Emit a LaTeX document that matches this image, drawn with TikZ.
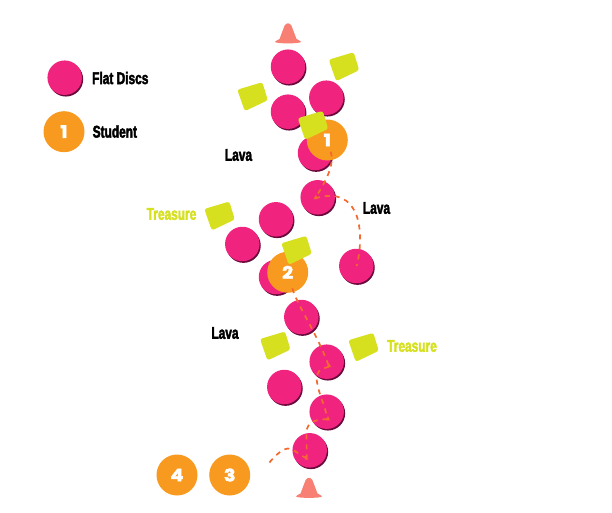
\documentclass[tikz,border=0pt]{standalone}
\usepackage{fontspec}
\setmainfont{Liberation Sans}
\newfontfamily\labelfont[FakeStretch=0.70,FakeBold=2.4]{Liberation Sans Bold}
\newfontfamily\numfont[FakeBold=3,FakeStretch=1.12]{Poppins Bold}
\definecolor{discpink}{HTML}{F0247F}
\definecolor{discshade}{HTML}{6A0A3C}
\definecolor{orangeb}{HTML}{F99A20}
\definecolor{lime}{HTML}{D6E01F}
\definecolor{routec}{HTML}{F4692F}
\definecolor{conec}{HTML}{F77F73}
\tikzset{
  x=1pt,y=-1pt,
  disc/.style={circle,fill=discpink,minimum size=34.5pt,inner sep=0pt,outer sep=0pt,
    preaction={draw=none,fill=discshade,transform canvas={shift={(1.2pt,-1.6pt)}}}},
  student/.style={circle,fill=orangeb,minimum size=41pt,inner sep=0pt,outer sep=0pt,
    text=white,font=\numfont\fontsize{17}{17}\selectfont},
  tag/.style={inner sep=0pt,font=\labelfont\fontsize{17}{18}\selectfont,text=black},
  ytag/.style={tag,text=lime},
  route/.style={draw=routec,line width=1.7pt,dash pattern=on 5pt off 5pt},
  tipmark/.style={fill=routec,draw=none},
  block/.pic={\fill[lime,rounded corners=2.5pt] (-15,-7) -- (10,-14.5) -- (15.5,3.5) -- (-7.5,14.5) -- cycle;},
  conepic/.pic={\fill[conec] (-13,18.3) .. controls (-13,17) and (-9.5,16.6) .. (-8.5,15.5)
     -- (-3.4,2) .. controls (-1.7,-0.9) and (1.7,-0.9) .. (3.4,2) -- (8.5,15.5)
     .. controls (9.5,16.6) and (13,17) .. (13,18.3) .. controls (13,20.4) and (-13,20.4) .. (-13,18.3) -- cycle;}
}
\begin{document}
\begin{tikzpicture}
\useasboundingbox (0,0) rectangle (612,513);
% cones
\pic at (288,23.5) {conepic};
\pic at (309,478) {conepic};
% discs
\node[disc] (legdisc) at (64.7,77.7) {};
\node[disc] (d1) at (288,66.7) {};
\node[disc] (d2) at (326.3,97.7) {};
\node[disc] (d3) at (288,111.7) {};
\node[disc] (d4) at (315,153) {};
\node[disc] (d5) at (317.7,197.3) {};
\node[disc] (d6) at (276,219.3) {};
\node[disc] (d7) at (242.3,244) {};
\node[disc] (d8) at (276,277) {};
\node[disc] (d9) at (356.3,266) {};
\node[disc] (d10) at (301.3,317) {};
\node[disc] (d11) at (326.7,361.7) {};
\node[disc] (d12) at (284.3,387) {};
\node[disc] (d13) at (326.7,411.7) {};
\node[disc] (d14) at (309.7,450.3) {};
% students
\node[student] (leg) at (64,131.7) {1};
\node[student] (s1) at (327.3,140) {1};
\node[student] (s2) at (287.7,272.3) {2};
\node[student] (s3) at (229.7,475) {3};
\node[student] (s4) at (177,475) {4};
% blocks
\pic at (343.7,66.7) {block};
\pic at (252.3,96.7) {block};
\pic at (312.7,125.3) {block};
\pic at (219.3,216) {block};
\pic at (296.3,250.3) {block};
\pic at (275,346) {block};
\pic at (363.3,347.3) {block};
% route way points
\coordinate (p0) at (330.7,151.7);
\coordinate (t1) at (315,198.3);
\coordinate (p2) at (292.3,288.3);
\coordinate (t2) at (329,366.7);
\coordinate (t3) at (327.5,419.3);
\coordinate (t4) at (306.7,458.3);
\coordinate (pend) at (268.3,464);
\coordinate (t5) at (356.7,266);
% routes
\draw[route] (p0) .. controls (334,162) and (330,175) .. (t1);
\draw[route] (t1) .. controls (330,194) and (345,194) .. (354,210)
   .. controls (361,222) and (362,245) .. (t5);
\draw[route] (p2) .. controls (297,305) and (318,335) .. (t2);
\draw[route] (t2) .. controls (320,369) and (315,372) .. (317,382)
   .. controls (319,395) and (325,405) .. (t3);
\draw[route] (t3) .. controls (316,419) and (307,422) .. (306.5,432) -- (t4);
\draw[route] (t4) .. controls (300,456) and (295,449) .. (288,448.5)
   .. controls (281,449) and (272,459) .. (pend);
\fill[tipmark] (313.5,199) -- (316,194.8) -- (317.8,199) -- cycle;
\fill[tipmark] (327,367) -- (329,363) -- (331,367) -- cycle;
\fill[tipmark] (326,420.3) -- (328,416) -- (330,420.3) -- cycle;
\fill[tipmark] (305,459.5) -- (305,455.5) -- (308.3,459.5) -- cycle;
% labels
\node[tag] (l1) at (238.5,155) {Lava};
\node[tag] (l2) at (376.5,208) {Lava};
\node[tag] (l3) at (225,333) {Lava};
\node[ytag] (t1l) at (171.5,214) {Treasure};
\node[ytag] (t2l) at (412,346) {Treasure};
\node[tag,anchor=west] (lf) at (92,78) {Flat Discs};
\node[tag,anchor=west] (ls) at (92.5,131.5) {Student};
\end{tikzpicture}
\end{document}
